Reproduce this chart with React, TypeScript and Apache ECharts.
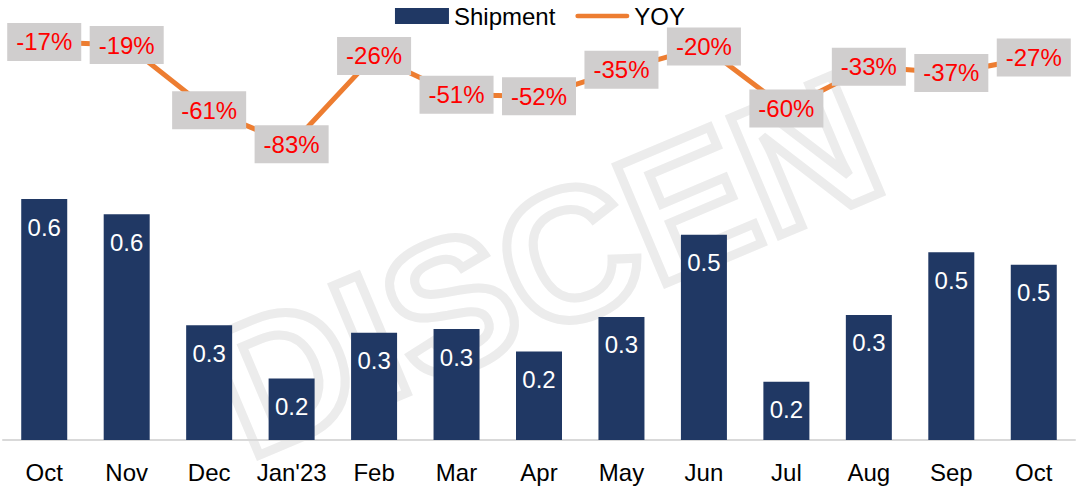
import React, { useEffect, useRef } from "react";
import * as echarts from "echarts";

const categories = ["Oct", "Nov", "Dec", "Jan'23", "Feb", "Mar", "Apr", "May", "Jun", "Jul", "Aug", "Sep", "Oct"];
const shipment = [0.634, 0.594, 0.302, 0.162, 0.282, 0.292, 0.233, 0.324, 0.54, 0.153, 0.329, 0.494, 0.461];
const yoy = [-17, -19, -61, -83, -26, -51, -52, -35, -20, -60, -33, -37, -27];

const FONT = "Arial, 'Liberation Sans', sans-serif";

export default function App() {
  const ref = useRef<HTMLDivElement>(null);
  useEffect(() => {
    if (!ref.current) return;
    const chart = echarts.init(ref.current, null, { renderer: "svg" });
    chart.setOption({
      animation: false,
      textStyle: { fontFamily: FONT },
      graphic: [
        {
          type: "text",
          x: 545,
          y: 265,
          rotation: 0.4,
          z: -10,
          silent: true,
          style: {
            text: "DISCEN",
            font: "bold 185px " + FONT,
            fill: "none",
            stroke: "#ececec",
            lineWidth: 9,
            align: "center",
            verticalAlign: "middle",
          },
        },
      ],
      legend: {
        top: -1,
        left: "center",
        itemWidth: 54,
        itemHeight: 16,
        itemGap: 20,
        textStyle: { fontSize: 24, color: "#000", fontFamily: FONT },
        data: [
          { name: "Shipment", icon: "rect" },
          { name: "YOY", icon: "path://M2.5,0 H55.5 A2.5,2.5 0 0 1 55.5,5 H2.5 A2.5,2.5 0 0 1 2.5,0 Z" },
        ],
      },
      grid: [
        { left: 3, right: 5, top: 60, height: 380 },
        { left: 3, right: 5, top: 15.6, height: 155 },
      ],
      xAxis: [
        {
          type: "category",
          gridIndex: 0,
          data: categories,
          axisLine: { lineStyle: { color: "#d9d9d9", width: 2 } },
          axisTick: { show: false },
          axisLabel: { interval: 0, fontSize: 24, color: "#000", margin: 20, fontFamily: FONT },
        },
        {
          type: "category",
          gridIndex: 1,
          data: categories,
          show: false,
        },
      ],
      yAxis: [
        { type: "value", gridIndex: 0, min: 0, max: 1, show: false, splitLine: { show: false } },
        { type: "value", gridIndex: 1, min: -100, max: 0, show: false, splitLine: { show: false } },
      ],
      series: [
        {
          name: "Shipment",
          type: "bar",
          xAxisIndex: 0,
          yAxisIndex: 0,
          data: shipment,
          barWidth: 46,
          itemStyle: { color: "#203864" },
          label: {
            show: true,
            position: "insideTop",
            distance: 16,
            color: "#fff",
            fontSize: 24,
            fontFamily: FONT,
            formatter: (p: any) => Number(p.value).toFixed(1),
          },
        },
        {
          name: "YOY",
          type: "line",
          xAxisIndex: 1,
          yAxisIndex: 1,
          data: yoy,
          symbol: "circle",
          symbolSize: 3,
          showSymbol: true,
          itemStyle: { color: "#ED7D31" },
          lineStyle: { color: "#ED7D31", width: 5 },
          label: {
            show: true,
            position: "inside",
            color: "#ff0000",
            fontSize: 24,
            fontFamily: FONT,
            backgroundColor: "#d0cece",
            padding: [8, 9, 6, 9],
            formatter: (p: any) => p.value + "%",
          },
        },
      ],
    });
    return () => chart.dispose();
  }, []);
  return <div ref={ref} style={{ width: 1080, height: 501, position: "absolute", left: 0, top: 0 }} />;
}
